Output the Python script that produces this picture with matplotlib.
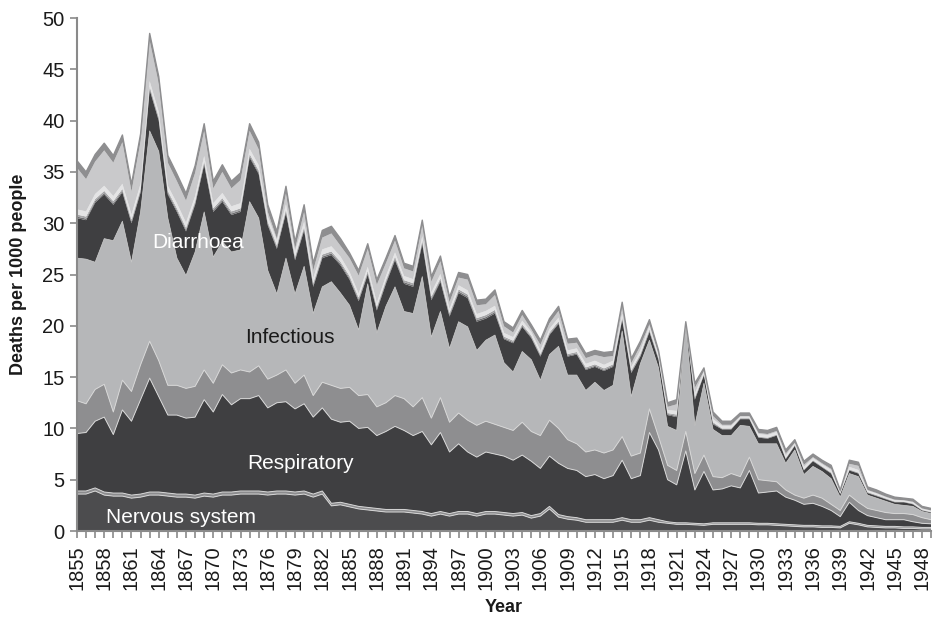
import numpy as np
import matplotlib
matplotlib.use("Agg")
import matplotlib.pyplot as plt

plt.rcParams['font.family'] = ['Liberation Sans', 'DejaVu Sans']

years = list(range(1855, 1950))

# Cumulative tops of the stacked layers (deaths per 1000)
nervous_top = [3.9, 3.9, 4.2, 3.8, 3.7, 3.7, 3.5, 3.6, 3.8, 3.8,
               3.7, 3.6, 3.6, 3.5, 3.7, 3.6, 3.8, 3.8, 3.9, 3.9,
               3.9, 3.8, 3.9, 3.9, 3.8, 3.9, 3.6, 3.9, 2.7, 2.8,
               2.6, 2.4, 2.3, 2.2, 2.1, 2.1, 2.1, 2.0, 1.9, 1.7,
               1.9, 1.7, 1.9, 1.9, 1.7, 1.9, 1.9, 1.8, 1.7, 1.8,
               1.5, 1.7, 2.4, 1.6, 1.4, 1.3, 1.1, 1.1, 1.1, 1.1,
               1.3, 1.1, 1.1, 1.3, 1.1, 0.9, 0.8, 0.8, 0.75, 0.7,
               0.8, 0.8, 0.8, 0.8, 0.8, 0.75, 0.75, 0.7, 0.65, 0.6,
               0.55, 0.55, 0.5, 0.5, 0.45, 0.9, 0.75, 0.55, 0.5, 0.45,
               0.45, 0.4, 0.4, 0.35, 0.35]
nervous_band = [0.3] * 28 + [0.25] * 37 + [0.15] * 30

respiratory_top = [9.5, 9.6, 10.7, 11.1, 9.4, 11.8, 10.7, 12.8, 14.9, 13.1,
                   11.3, 11.3, 11.0, 11.1, 12.8, 11.6, 13.3, 12.3, 12.9, 12.9,
                   13.2, 12.0, 12.5, 12.6, 11.9, 12.4, 11.1, 12.0, 10.9, 10.6,
                   10.7, 10.0, 10.1, 9.3, 9.7, 10.2, 9.8, 9.3, 9.7, 8.4,
                   9.6, 7.7, 8.5, 7.7, 7.2, 7.7, 7.5, 7.3, 6.9, 7.4,
                   6.8, 6.1, 7.3, 6.6, 6.1, 5.9, 5.3, 5.5, 5.1, 5.4,
                   6.9, 5.1, 5.4, 9.6, 7.9, 5.0, 4.5, 7.8, 4.0, 5.8,
                   4.0, 4.1, 4.4, 4.2, 5.9, 3.7, 3.8, 3.9, 3.3, 3.0,
                   2.6, 2.7, 2.4, 2.0, 1.4, 2.8, 2.0, 1.5, 1.3, 1.1,
                   1.1, 1.1, 0.9, 0.75, 0.7]

other_top = [12.7, 12.4, 13.8, 14.3, 11.6, 14.7, 13.6, 16.2, 18.5, 16.6,
             14.2, 14.2, 13.9, 14.1, 15.7, 14.4, 16.2, 15.4, 15.7, 15.5,
             16.1, 14.8, 15.2, 15.7, 14.4, 15.2, 13.2, 14.5, 14.2, 13.9,
             14.0, 13.2, 13.3, 12.1, 12.5, 13.2, 12.9, 12.1, 13.0, 11.0,
             13.0, 10.6, 11.5, 10.8, 10.3, 10.7, 10.4, 10.1, 9.8, 10.6,
             9.7, 9.3, 10.8, 10.0, 8.9, 8.5, 7.7, 7.9, 7.6, 7.9,
             9.2, 7.3, 7.6, 11.9, 9.2, 6.4, 5.9, 9.7, 5.6, 7.4,
             5.3, 5.2, 5.6, 5.3, 7.2, 5.0, 4.9, 4.8, 4.0, 3.5,
             3.2, 3.5, 3.2, 2.6, 2.0, 3.5, 2.8, 2.2, 2.0, 1.8,
             1.7, 1.7, 1.6, 1.3, 1.1]

infectious_top = [26.6, 26.5, 26.2, 28.5, 28.3, 30.2, 26.2, 31.1, 39.0, 37.0,
                  30.5, 26.6, 24.9, 27.2, 31.1, 26.7, 28.2, 27.2, 27.4, 32.1,
                  30.5, 25.4, 23.1, 26.6, 23.1, 25.8, 21.2, 23.8, 24.3, 23.2,
                  22.0, 19.6, 24.1, 19.3, 21.9, 23.8, 21.4, 21.2, 24.8, 18.9,
                  21.4, 17.8, 20.4, 19.9, 17.6, 18.6, 19.1, 16.4, 15.5, 17.5,
                  16.7, 14.7, 17.2, 18.0, 15.2, 15.2, 13.7, 14.5, 13.7, 14.2,
                  19.5, 13.1, 16.3, 18.6, 15.9, 10.2, 9.8, 20.0, 10.3, 14.4,
                  9.9, 9.3, 9.3, 10.3, 10.2, 8.5, 8.5, 8.5, 6.6, 7.9,
                  5.5, 6.3, 5.8, 5.1, 3.3, 5.6, 5.3, 3.5, 3.2, 2.9,
                  2.6, 2.5, 2.4, 1.9, 1.7]

dark_top = [30.5, 30.3, 32.0, 32.8, 31.8, 33.0, 30.0, 33.0, 43.0, 40.0,
            32.8, 31.1, 29.2, 31.8, 35.7, 31.1, 32.1, 30.8, 31.1, 36.4,
            34.8, 29.8, 27.5, 31.0, 26.4, 29.3, 23.8, 26.6, 26.9, 25.9,
            24.5, 22.4, 25.0, 21.5, 24.1, 26.4, 24.1, 23.8, 28.0, 22.5,
            24.3, 20.9, 23.2, 22.7, 20.4, 20.7, 21.2, 18.7, 18.3, 19.9,
            18.8, 17.0, 19.1, 20.2, 17.0, 17.2, 15.7, 16.0, 15.6, 16.0,
            20.6, 15.4, 17.0, 19.4, 16.7, 11.3, 11.1, 20.2, 12.8, 15.2,
            10.4, 9.9, 9.9, 10.9, 10.9, 9.1, 9.0, 9.3, 7.0, 8.3,
            5.9, 6.8, 6.2, 5.6, 3.6, 5.9, 5.6, 3.7, 3.4, 3.1,
            2.8, 2.8, 2.6, 2.0, 1.8]

total = [36.1, 35.0, 36.7, 37.8, 36.6, 38.6, 33.8, 38.7, 48.5, 44.3,
         36.6, 34.8, 32.9, 35.6, 39.7, 34.1, 35.7, 34.1, 34.9, 39.7,
         37.9, 31.8, 29.2, 33.6, 28.2, 31.8, 26.1, 29.3, 29.7, 28.5,
         27.1, 25.4, 28.0, 24.5, 26.6, 28.8, 26.1, 25.8, 30.3, 24.8,
         26.8, 22.8, 25.2, 25.0, 22.5, 22.6, 23.5, 20.4, 19.8, 21.5,
         20.1, 18.6, 20.7, 21.9, 18.7, 18.8, 17.3, 17.6, 17.4, 17.5,
         22.3, 16.8, 18.5, 20.6, 17.6, 12.5, 12.8, 20.4, 14.4, 15.9,
         11.6, 10.7, 10.7, 11.5, 11.5, 9.9, 9.8, 10.1, 7.9, 8.9,
         6.8, 7.5, 6.9, 6.4, 4.0, 6.9, 6.7, 4.3, 4.0, 3.6,
         3.3, 3.2, 3.1, 2.4, 2.2]

# thin bands above the dark band (thicknesses)
thin_a = [0.15] * 47 + [0.1] * 20 + [0.03, 0.1, 0.05, 0.1] + [0.05] * 13 + \
         [0.03, 0.05, 0.05, 0.05, 0.05, 0.04, 0.04, 0.03, 0.04, 0.03, 0.03]
thin_b = [0.2] * 47 + [0.15] * 17 + [0.1, 0.1, 0.15, 0.03, 0.15, 0.05, 0.1] + [0.05] * 13 + \
         [0.03, 0.05, 0.05, 0.05, 0.05, 0.04, 0.04, 0.03, 0.04, 0.03, 0.03]
pale_band = [0.5] * 30 + [0.4] * 17 + [0.35] * 17 + \
            [0.3, 0.3, 0.35, 0.05, 0.35, 0.25,
             0.3, 0.25, 0.25, 0.15, 0.15, 0.25, 0.25, 0.25, 0.25, 0.15,
             0.25, 0.2, 0.2, 0.25, 0.1, 0.25, 0.25, 0.15, 0.15, 0.12,
             0.12, 0.1, 0.12, 0.1, 0.1]
top_band = [0.7] * 30 + [0.5] * 17 + [0.45] * 17 + \
           [0.35, 0.4, 0.45, 0.08, 0.45, 0.3,
            0.4, 0.35, 0.35, 0.3, 0.3, 0.35, 0.35, 0.35, 0.35, 0.3,
            0.35, 0.3, 0.3, 0.35, 0.2, 0.35, 0.35, 0.3, 0.3, 0.25,
            0.25, 0.2, 0.25, 0.2, 0.2]

x = np.array(years)
N = np.array(nervous_top)
D = np.array(dark_top)
T = np.array(total)
b = [np.zeros(len(x)),
     N - np.array(nervous_band),
     N,
     np.array(respiratory_top),
     np.array(other_top),
     np.array(infectious_top),
     D,
     D + np.array(thin_a),
     D + np.array(thin_a) + np.array(thin_b),
     D + np.array(thin_a) + np.array(thin_b) + np.array(pale_band),
     T - np.array(top_band),
     T]

colors = ['#4c4c4e', '#8c8c8e', '#3f3f41', '#8e8e90', '#b6b7b9',
          '#3f3f41', '#6e6e70', '#a6a6a8', '#e4e4e5', '#c9c9cb', '#8e8e90']

fig = plt.figure(figsize=(9.33, 6.22), dpi=100)
ax = fig.add_axes([0.0825, 0.1463, 0.9155, 0.8247])

for i in range(len(colors)):
    ax.fill_between(x, b[i], b[i + 1], facecolor=colors[i], edgecolor='none',
                    linewidth=0, zorder=2)

# light outlines along some boundaries
for k in [1, 2, 3, 4]:
    ax.plot(x, b[k], color='#d6d6d6', lw=0.7, zorder=3)
ax.plot(x, b[5], color='#c8c8c8', lw=0.5, zorder=3)
ax.plot(x, b[11], color='#8e8e90', lw=1.0, zorder=3)

ax.set_xlim(1855, 1949)
ax.set_ylim(0, 50)

ax.set_yticks(range(0, 51, 5))
ax.set_xticks(years[::3])
ax.set_xticklabels([str(y) for y in years[::3]], rotation=90)
ax.set_xticks(years, minor=True)

for s in ['top', 'right']:
    ax.spines[s].set_visible(False)
for s in ['left', 'bottom']:
    ax.spines[s].set_color('#8a8a8a')
    ax.spines[s].set_linewidth(1.5)
    ax.spines[s].set_zorder(4)

ax.tick_params(axis='both', which='both', direction='out', color='#8a8a8a',
               width=1.2, labelsize=14.5, labelcolor='#1a1a1a')
ax.tick_params(axis='y', length=5, pad=4)
ax.tick_params(axis='x', which='major', length=5, pad=5)
ax.tick_params(axis='x', which='minor', length=5)

ax.set_ylabel('Deaths per 1000 people', fontsize=13, fontweight='bold', color='#1a1a1a')
ax.set_xlabel('Year', fontsize=13, fontweight='bold', color='#1a1a1a')
ax.yaxis.set_label_coords(-0.058, 0.5)
ax.xaxis.set_label_coords(0.5, -0.133)

ax.text(1866.4, 1.35, 'Nervous system', color='white', fontsize=15, ha='center', va='center', zorder=5)
ax.text(1879.6, 6.6, 'Respiratory', color='white', fontsize=15, ha='center', va='center', zorder=5)
ax.text(1878.4, 18.9, 'Infectious', color='#1a1a1a', fontsize=15, ha='center', va='center', zorder=5)
ax.text(1868.3, 28.1, 'Diarrhoea', color='white', fontsize=15, ha='center', va='center', zorder=5)

fig.savefig('out.png', dpi=100)
